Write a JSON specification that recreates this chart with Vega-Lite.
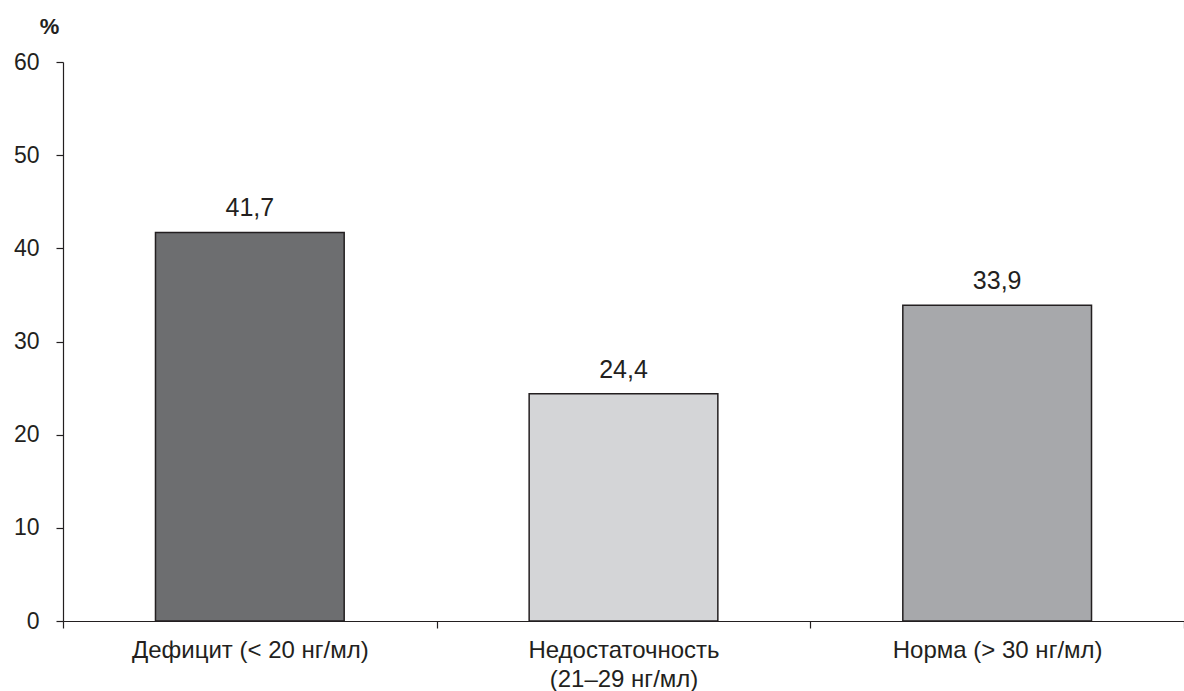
{
  "$schema": "https://vega.github.io/schema/vega-lite/v6.json",
  "width": 1121,
  "height": 559,
  "autosize": "none",
  "padding": {"left": 63, "top": 62, "right": 0, "bottom": 70},
  "config": {
    "view": {"stroke": null},
    "font": "Liberation Sans",
    "locale": {"number": {"decimal": ",", "thousands": " ", "grouping": [3], "currency": ["", ""]}}
  },
  "data": {
    "values": [
      {"category": "Дефицит (< 20 нг/мл)", "value": 41.7, "color": "#6d6e70"},
      {"category": "Недостаточность\n(21–29 нг/мл)", "value": 24.4, "color": "#d4d5d7"},
      {"category": "Норма (> 30 нг/мл)", "value": 33.9, "color": "#a7a8ab"}
    ]
  },
  "encoding": {
    "x": {
      "field": "category",
      "type": "nominal",
      "sort": null,
      "scale": {"paddingInner": 0, "paddingOuter": 0},
      "axis": {
        "title": null,
        "labelAngle": 0,
        "labelFontSize": 24,
        "labelLimit": 500,
        "labelColor": "#231f20",
        "labelPadding": 10,
        "labelLineHeight": 29,
        "labelExpr": "split(datum.label, '\\n')",
        "tickBand": "extent",
        "tickSize": 7,
        "tickColor": "#231f20",
        "domainColor": "#231f20",
        "domainWidth": 1.2,
        "tickWidth": 1.2,
        "grid": false
      }
    },
    "y": {
      "field": "value",
      "type": "quantitative",
      "scale": {"domain": [0, 60]},
      "axis": {
        "values": [0, 10, 20, 30, 40, 50, 60],
        "title": "%",
        "titleAngle": 0,
        "titleX": -14,
        "titleY": -29,
        "titleAlign": "center",
        "titleBaseline": "alphabetic",
        "titleFontSize": 22,
        "titleFontWeight": "bold",
        "titleColor": "#231f20",
        "labelFontSize": 23,
        "labelColor": "#231f20",
        "labelPadding": 17,
        "tickSize": 7,
        "tickColor": "#231f20",
        "domainColor": "#231f20",
        "domainWidth": 1.2,
        "tickWidth": 1.2,
        "grid": false
      }
    }
  },
  "layer": [
    {
      "mark": {"type": "bar", "width": {"band": 0.505}, "stroke": "#231f20", "strokeWidth": 1.5},
      "encoding": {
        "color": {"field": "color", "type": "nominal", "scale": null}
      }
    },
    {
      "mark": {"type": "text", "dy": -16, "baseline": "alphabetic", "fontSize": 25, "color": "#231f20"},
      "encoding": {
        "text": {"field": "value", "type": "quantitative", "format": ".1f"}
      }
    }
  ]
}
